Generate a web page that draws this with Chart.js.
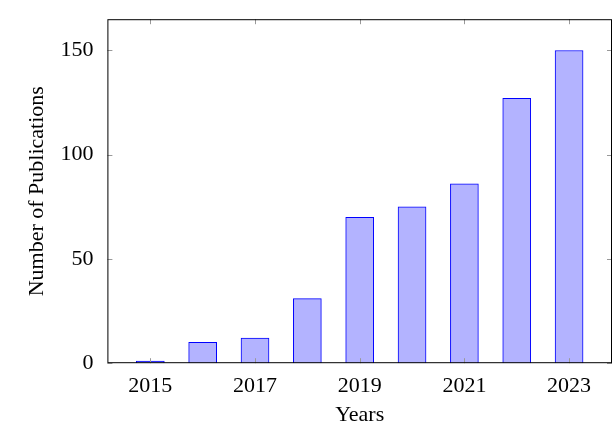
<!DOCTYPE html>
<html><head><meta charset="utf-8">
<script src="https://cdn.jsdelivr.net/npm/chart.js@4"></script>
<style>html,body{margin:0;padding:0;background:#fff}#w{width:614px;height:432px}</style>
</head><body><div id="w"><canvas id="c"></canvas></div>
<script>
const years=[2015,2016,2017,2018,2019,2020,2021,2022,2023];
const pubs=[1,10,12,31,70,75,86,127,150];
const xTicks=[2015,2017,2019,2021,2023];
const yTicks=[0,50,100,150];
const F="'Liberation Serif','Times New Roman',serif";
const tickPlugin={id:'tk',afterDraw(ch){const c=ch.ctx,a=ch.chartArea,x=ch.scales.x,y=ch.scales.y;c.save();c.strokeStyle='#999';c.lineWidth=1;
xTicks.forEach(v=>{const p=Math.round(x.getPixelForValue(v))+.5;c.beginPath();c.moveTo(p,a.top);c.lineTo(p,a.top+5);c.moveTo(p,a.bottom);c.lineTo(p,a.bottom-5);c.stroke();});
yTicks.forEach(v=>{const p=Math.round(y.getPixelForValue(v))+.5;c.beginPath();c.moveTo(a.left,p);c.lineTo(a.left+5,p);c.moveTo(a.right,p);c.lineTo(a.right-5,p);c.stroke();});
c.strokeStyle='#000';c.strokeRect(a.left+.5,a.top+.5,a.right-a.left-1,a.bottom-a.top-1);c.restore();}};
new Chart(document.getElementById('c'),{type:'bar',
data:{datasets:[{data:years.map((y,i)=>({x:y,y:pubs[i]})),backgroundColor:'rgb(179,179,255)',borderColor:'rgb(0,0,255)',borderWidth:1,barThickness:28}]},
options:{responsive:true,maintainAspectRatio:false,animation:false,layout:{padding:{top:13,right:2,left:24,bottom:4}},
plugins:{legend:{display:false},tooltip:{enabled:false}},
scales:{x:{type:'linear',offset:false,min:2014.18,max:2023.82,afterBuildTicks(s){s.ticks=xTicks.map(v=>({value:v}));},
ticks:{color:'#000',font:{family:F,size:22},padding:2,callback:v=>String(v)},grid:{display:false,offset:false},border:{display:false},
title:{display:true,text:'Years',color:'#000',font:{family:F,size:22},padding:{top:0,bottom:0}}},
y:{min:0,max:165,afterBuildTicks(s){s.ticks=yTicks.map(v=>({value:v}));},
ticks:{color:'#000',font:{family:F,size:22},padding:6},grid:{display:false},border:{display:false},
title:{display:true,text:'Number of Publications',color:'#000',font:{family:F,size:22},padding:{top:0,bottom:4}}}}},
plugins:[tickPlugin]});
</script></body></html>
